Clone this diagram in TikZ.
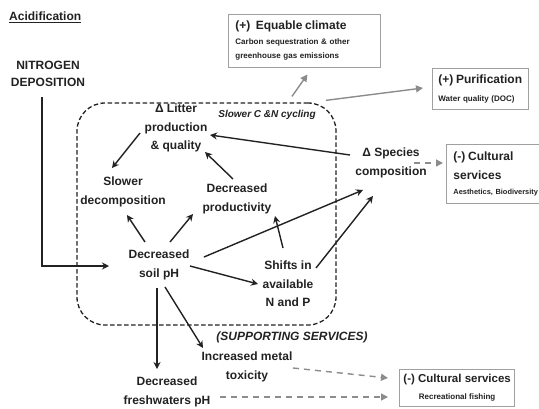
\documentclass[tikz,border=0pt]{standalone}
\usepackage{fontspec}
\setmainfont{Liberation Sans}
\usetikzlibrary{arrows.meta,calc}
\definecolor{ink}{HTML}{222222}
\definecolor{gr}{HTML}{8C8C8C}
\definecolor{boxc}{HTML}{A0A0A0}
\begin{document}
\begin{tikzpicture}[x=1pt,y=-1pt,
  lbl/.style={font=\bfseries\fontsize{12}{18.5}\selectfont, align=center, text=ink, inner sep=1pt},
  arr/.style={-{Stealth[length=7pt,width=7pt]}, line width=1.4pt, draw=ink},
  garr/.style={-{Triangle[length=7pt,width=7pt]}, line width=1.4pt, draw=gr},
  gdash/.style={garr, dash pattern=on 6pt off 5pt},
  sbox/.style={draw=boxc, line width=0.9pt, inner xsep=6pt, inner ysep=0pt, text=ink, anchor=west, font=\bfseries\fontsize{8}{14}\selectfont},
  grpbox/.style={draw=ink, line width=1.3pt, dash pattern=on 4.5pt off 2.5pt, rounded corners=28pt, inner sep=0pt}
]
\useasboundingbox (0,0) rectangle (539,408);
\fill[white] (0,0) rectangle (539,408);

% title
\node[font=\bfseries\fontsize{12}{14}\selectfont, text=ink, anchor=west, inner sep=0pt] (title) at (9,17) {\underline{Acidification}};

% dashed group
\node[grpbox, minimum width=259pt, minimum height=222pt] (grp) at (206.5,214) {};

% text nodes
\node[lbl, font=\bfseries\fontsize{12}{17}\selectfont] (nitro) at (48,74) {NITROGEN\\DEPOSITION};
\node[lbl] (litter) at (176,128) {Δ Litter\\production\\\& quality};
\node[lbl, font=\bfseries\itshape\fontsize{10}{12}\selectfont] (slowcn) at (267,115) {Slower C \&N cycling};
\node[lbl] (slowdec) at (123,192) {Slower\\decomposition};
\node[lbl] (decprod) at (237,199) {Decreased\\productivity};
\node[lbl] (species) at (391,163) {Δ Species\\composition};
\node[lbl] (soilph) at (159,265) {Decreased\\soil pH};
\node[lbl] (shifts) at (288,284) {Shifts in\\available\\N and P};
\node[lbl, font=\bfseries\itshape\fontsize{12}{14}\selectfont] (support) at (292,337) {(SUPPORTING SERVICES)};
\node[lbl] (metal) at (247,367) {Increased metal\\toxicity};
\node[lbl] (fresh) at (167,392) {Decreased\\freshwaters pH};

% service boxes
\node[sbox, minimum width=152pt, minimum height=53pt, text width=138pt, align=left] (climate) at (228,40.5)
  {{\fontsize{12}{14}\selectfont (+)\ \ Equable climate}\\[1pt]Carbon sequestration \& other\\greenhouse gas emissions};
\node[sbox, minimum width=95pt, minimum height=41pt, text width=84pt, align=left] (purif) at (432,88.5)
  {{\fontsize{12}{14}\selectfont (+) Purification}\\[4pt]Water quality (DOC)};
\node[sbox, minimum width=110pt, minimum height=59pt, text width=96pt, align=left] (cult1) at (446,173.5)
  {{\fontsize{12}{14}\selectfont (-) Cultural\\[5pt]services}\\[1pt]{\fontsize{7.4}{14}\selectfont Aesthetics, Biodiversity}};
\node[sbox, inner xsep=4pt, minimum height=37pt, align=center] (cult2) at (399,387.5)
  {{\fontsize{11.5}{14}\selectfont (-) Cultural services}\\[3pt]Recreational fishing};

% black arrows
\draw[arr] ($(nitro)+(-6,23)$) |- ($(soilph)+(-50,1)$);
\draw[arr] ($(litter)+(-36,5)$) -- ($(slowdec)+(-11,-24)$);
\draw[arr] ($(decprod)+(-4,-20)$) -- ($(litter)+(29,24)$);
\draw[arr] ($(species)+(-41,-8)$) -- ($(litter)+(34,7)$);
\draw[arr] ($(soilph)+(-14,-23)$) -- ($(slowdec)+(4,23)$);
\draw[arr] ($(soilph)+(11,-23)$) -- ($(decprod)+(-44,15)$);
\draw[arr] ($(soilph)+(45,-8)$) -- ($(species)+(-28,27)$);
\draw[arr] ($(soilph)+(31,1)$) -- ($(shifts)+(-30,0)$);
\draw[arr] ($(shifts)+(-5,-36)$) -- ($(decprod)+(38,17)$);
\draw[arr] ($(shifts)+(28,-16)$) -- ($(species)+(-18,33)$);
\draw[arr] ($(soilph)+(-2,23)$) -- ($(fresh)+(-10,-23)$);
\draw[arr] ($(soilph)+(6,22)$) -- ($(metal)+(-44,-19)$);

% grey arrows
\draw[garr] ($(grp.north)+(85.5,-6)$) -- ($(climate.south)+(3,7)$);
\draw[garr] ($(grp.north)+(119.5,-2)$) -- ($(purif.west)+(-9,-0.5)$);
\draw[gdash] ($(species)+(23,0)$) -- ($(cult1.west)+(-3,-10.5)$);
\draw[gdash] ($(metal)+(46,1)$) -- ($(cult2.west)+(-11,-9.5)$);
\draw[gdash] ($(fresh)+(53,5)$) -- ($(cult2.west)+(-11,9.5)$);
\end{tikzpicture}
\end{document}
